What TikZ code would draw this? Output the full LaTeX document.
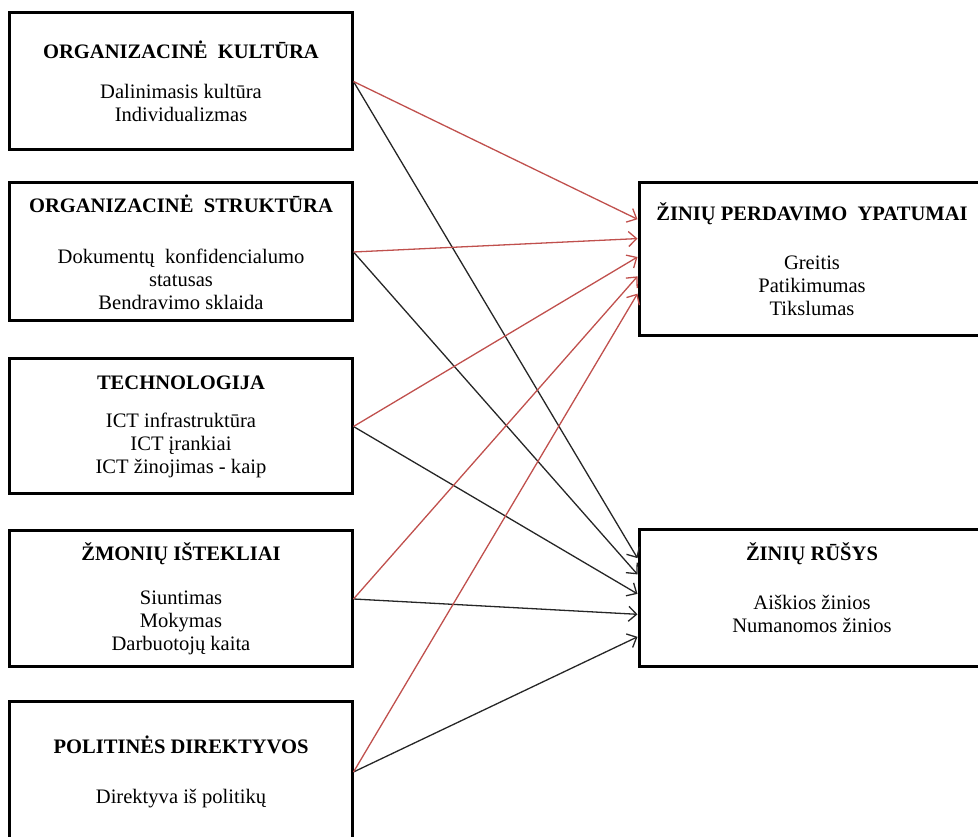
\documentclass[tikz,border=0pt]{standalone}
\usepackage{fontspec}
\setmainfont{Liberation Serif}
\usepackage{xcolor}
\usepackage{tikz}
\usetikzlibrary{calc}
\usetikzlibrary{arrows.meta}

\definecolor{linkred}{RGB}{192,80,77}

\tikzset{
        factor/.style={draw, line width=0.06cm, rectangle, align=center, inner sep=0pt,
                font=\fontsize{11.7}{13.1}\selectfont},
        leftbox/.style={factor, minimum width=6.84cm},
        rightbox/.style={factor, minimum width=6.92cm},
        link/.style={line width=0.026cm, -{Straight Barb[length=1.6mm,width=3mm]}},
}

\begin{document}
\begin{tikzpicture}
        \useasboundingbox (0.000000,0.000000) rectangle (19.560000,16.740000);
        \clip (0.000000,0.000000) rectangle (19.560000,16.740000);

        % Factor boxes on the left
        \node [leftbox, minimum height=2.74cm] (kultura) at (3.620000,15.110000)
                {\textbf{ORGANIZACINĖ\ \ KULTŪRA}\\[9.7pt] Dalinimasis kultūra\\ Individualizmas};
        \node [leftbox, minimum height=2.76cm] (struktura) at (3.620000,11.700000)
                {\textbf{ORGANIZACINĖ\ \ STRUKTŪRA}\\[16pt] Dokumentų\ \ konfidencialumo\\ statusas\\ Bendravimo sklaida};
        \node [leftbox, minimum height=2.70cm] (technologija) at (3.620000,8.210000)
                {\textbf{TECHNOLOGIJA}\\[8.5pt] ICT infrastruktūra\\ ICT įrankiai\\ ICT žinojimas - kaip};
        \node [leftbox, minimum height=2.72cm] (istekliai) at (3.620000,4.760000)
                {\textbf{ŽMONIŲ IŠTEKLIAI}\\[12pt] Siuntimas\\ Mokymas\\ Darbuotojų kaita};
        \node [leftbox, minimum height=2.80cm] (direktyvos) at (3.620000,1.300000)
                {\textbf{POLITINĖS DIREKTYVOS}\\[15.4pt] Direktyva iš politikų};

        % Result boxes on the right
        \node [rightbox, minimum height=3.06cm] (perdavimas) at (16.240000,11.550000)
                {\textbf{ŽINIŲ PERDAVIMO\ \ YPATUMAI}\\[14.8pt] Greitis\\ Patikimumas\\ Tikslumas};
        \node [rightbox, minimum height=2.74cm] (rusys) at (16.240000,4.770000)
                {\textbf{ŽINIŲ RŪŠYS}\\[14.8pt] Aiškios žinios\\ Numanomos žinios\\[-1pt] \mbox{}};

        % Drawing black links to rusys
        \draw [link, black!85] (kultura.east) -- ($(rusys.north west)!0.212!(rusys.south west)$);%
        \draw [link, black!85] (struktura.east) -- ($(rusys.north west)!0.328!(rusys.south west)$);%
        \draw [link, black!85] (technologija.east) -- ($(rusys.north west)!0.467!(rusys.south west)$);%
        \draw [link, black!85] (istekliai.east) -- ($(rusys.north west)!0.613!(rusys.south west)$);%
        \draw [link, black!85] (direktyvos.east) -- ($(rusys.north west)!0.774!(rusys.south west)$);%

        % Drawing red links to perdavimas
        \draw [link, linkred] (kultura.east) -- ($(perdavimas.north west)!0.242!(perdavimas.south west)$);%
        \draw [link, linkred] (struktura.east) -- ($(perdavimas.north west)!0.366!(perdavimas.south west)$);%
        \draw [link, linkred] (technologija.east) -- ($(perdavimas.north west)!0.484!(perdavimas.south west)$);%
        \draw [link, linkred] (istekliai.east) -- ($(perdavimas.north west)!0.608!(perdavimas.south west)$);%
        \draw [link, linkred] (direktyvos.east) -- ($(perdavimas.north west)!0.719!(perdavimas.south west)$);%
\end{tikzpicture}
\end{document}
